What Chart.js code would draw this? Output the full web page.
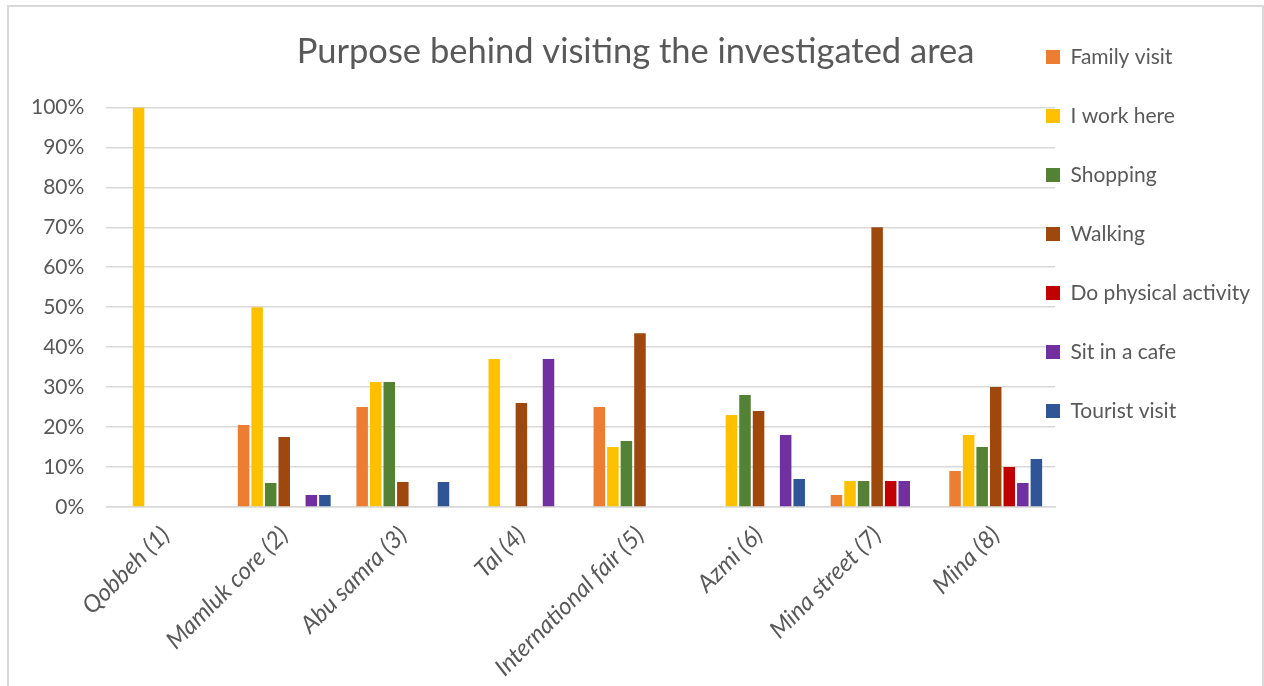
<!DOCTYPE html>
<html>
<head>
<meta charset="utf-8">
<script src="https://cdn.jsdelivr.net/npm/chart.js@4.4.1/dist/chart.umd.min.js"></script>
<style>
  html, body { margin: 0; padding: 0; background: #fff; overflow: hidden; }
  #wrap { position: absolute; left: 7px; top: 5px; width: 1253px; height: 700px; border: 2px solid #d9d9d9; }
</style>
</head>
<body>
<div id="wrap"><canvas id="chart" width="1253" height="685"></canvas></div>
<script>
const areas = ['Qobbeh (1)', 'Mamluk core (2)', 'Abu samra (3)', 'Tal (4)', 'International fair (5)', 'Azmi (6)', 'Mina street (7)', 'Mina (8)'];

// share of respondents (%) per purpose
const familyVisit = [0, 20.5, 25, 0, 25, 0, 3, 9];
const workHere    = [100, 50, 31.25, 37, 15, 23, 6.5, 18];
const shopping    = [0, 6, 31.25, 0, 16.5, 28, 6.5, 15];
const walking     = [0, 17.5, 6.25, 26, 43.5, 24, 70, 30];
const physical    = [0, 0, 0, 0, 0, 0, 6.5, 10];
const cafe        = [0, 3, 0, 37, 0, 18, 6.5, 6];
const tourist     = [0, 3, 6.25, 0, 0, 7, 0, 12];

const seriesNames = ['Family visit', 'I work here', 'Shopping', 'Walking', 'Do physical activity', 'Sit in a cafe', 'Tourist visit'];
const seriesColors = ['#ED7D31', '#FFC000', '#548235', '#9E480E', '#C00000', '#7030A0', '#2F5597'];
const seriesValues = [familyVisit, workHere, shopping, walking, physical, cafe, tourist];

const FONT = 'Lato, "Open Sans", sans-serif';
const GREY = '#595959';

// Excel-style legend: sits level with the title and slightly over the plot edge
const legendShift = {
  id: 'legendShift',
  afterLayout(chart) {
    const lg = chart.legend;
    lg.left = chart.chartArea.right - 47;
    lg.right = chart.width;
    lg.top = 1.5;
  }
};

const ctx = document.getElementById('chart');
new Chart(ctx, {
  type: 'bar',
  data: {
    labels: areas,
    datasets: seriesNames.map((name, i) => ({
      label: name,
      data: seriesValues[i],
      backgroundColor: seriesColors[i],
      borderWidth: 0,
      categoryPercentage: 0.8,
      barPercentage: 0.85
    }))
  },
  options: {
    responsive: false,
    animation: false,
    devicePixelRatio: 1,
    layout: { padding: { left: 0, right: 0, top: 0, bottom: 4 } },
    plugins: {
      title: {
        display: true,
        text: 'Purpose behind visiting the investigated area',
        color: GREY,
        font: { family: FONT, size: 34.5, weight: 'normal' },
        padding: { top: 24, bottom: 35 }
      },
      legend: {
        position: 'right',
        align: 'start',
        maxWidth: 207,
        labels: {
          color: GREY,
          font: { family: FONT, size: 21 },
          boxWidth: 14,
          boxHeight: 14,
          padding: 38
        }
      },
      tooltip: { enabled: false }
    },
    scales: {
      x: {
        grid: { display: false },
        border: { display: true, color: '#d9d9d9', width: 1.5 },
        ticks: {
          color: GREY,
          font: { family: FONT, size: 24, style: 'italic' },
          minRotation: 45,
          maxRotation: 45,
          padding: 6
        },
        afterFit(scale) {
          scale.paddingLeft = 0;
          scale.paddingRight = 0;
        }
      },
      y: {
        min: 0,
        max: 100,
        grid: { color: '#d9d9d9', lineWidth: 1.5, drawTicks: false },
        border: { display: false },
        ticks: {
          stepSize: 10,
          color: GREY,
          font: { family: FONT, size: 21 },
          padding: 22,
          callback: v => v + '%'
        }
      }
    }
  },
  plugins: [legendShift]
});
</script>
</body>
</html>
